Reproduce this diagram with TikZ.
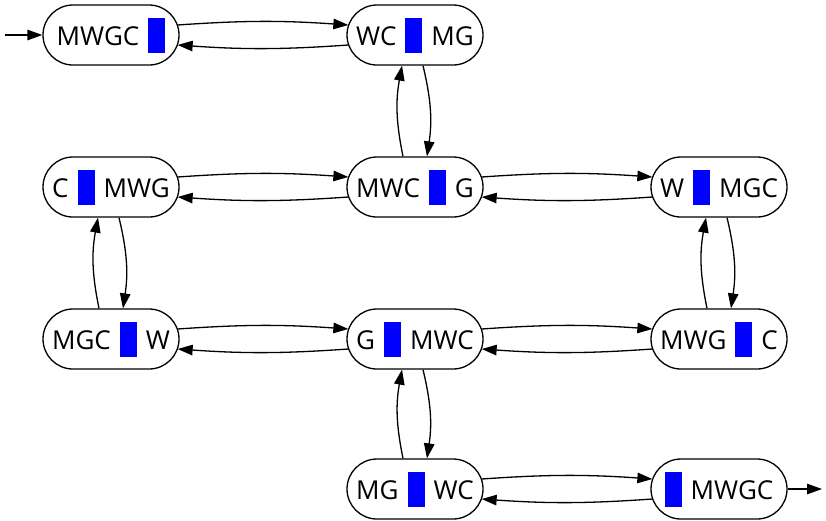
\documentclass[tikz,border=0pt]{standalone}
\usepackage{fontspec}
\setmainfont{Open Sans}
\usetikzlibrary{arrows.meta}
\newcommand{\bluebar}{\textcolor{blue}{\rule[-7.5pt]{17pt}{35pt}}}
\newcommand{\gp}{\hspace{9pt}}
\tikzset{
  st/.style={draw, line width=1.3pt, rounded corners=30pt, minimum width=136pt,
    minimum height=60pt, inner sep=0pt, font=\fontsize{26}{30}\selectfont, text height=20pt, text depth=0pt},
  tr/.style={line width=1.3pt, -{Triangle[length=15pt,width=10.5pt]}},
}
\begin{document}
\begin{tikzpicture}[x=1pt,y=-1pt]
\useasboundingbox (0,0) rectangle (826,520);
\node[st] (a) at (111,35) {MWGC\gp\bluebar};
\node[st] (b) at (415,35) {WC\gp\bluebar\gp MG};
\node[st] (c) at (111,187) {C\gp\bluebar\gp MWG};
\node[st] (d) at (415,187) {MWC\gp\bluebar\gp G};
\node[st] (e) at (719,187) {W\gp\bluebar\gp MGC};
\node[st] (f) at (111,339) {MGC\gp\bluebar\gp W};
\node[st] (g) at (415,339) {G\gp\bluebar\gp MWC};
\node[st] (h) at (719,339) {MWG\gp\bluebar\gp C};
\node[st] (i) at (415,489) {MG\gp\bluebar\gp WC};
\node[st] (j) at (719,489) {\bluebar\gp MWGC};
\coordinate (s) at (5,35);
\coordinate (t) at (822,489);
\draw[tr] (s) -- (a.west);
\draw[tr] (j.east) -- (t);
% horizontal pairs: left node, right node
\foreach \l/\r in {a/b, c/d, d/e, f/g, g/h, i/j}{
  \draw[tr] ([xshift=-2pt,yshift=10pt]\l.east) to[bend left=4] ([xshift=2pt,yshift=10pt]\r.west);
  \draw[tr] ([xshift=2pt,yshift=-10pt]\r.west) to[bend left=4] ([xshift=-2pt,yshift=-10pt]\l.east);
}
% vertical pairs: upper node, lower node
\foreach \u/\d in {b/d, c/f, e/h, g/i}{
  \draw[tr] ([xshift=-12pt]\d.north) to[bend left=11] ([xshift=-13pt]\u.south);
  \draw[tr] ([xshift=8pt]\u.south) to[bend left=11] ([xshift=12pt]\d.north);
}
\end{tikzpicture}
\end{document}
